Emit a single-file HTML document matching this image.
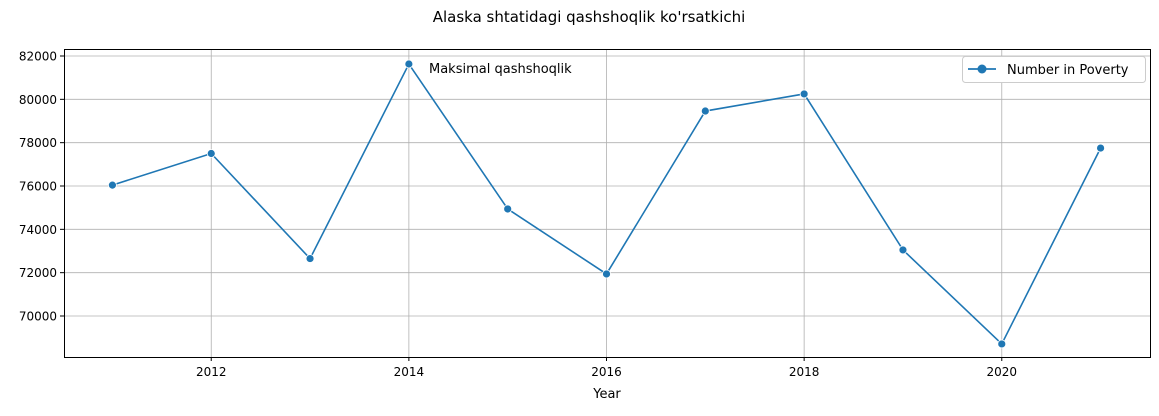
<!DOCTYPE html>
<html><head><meta charset="utf-8"><style>
body{margin:0;background:#fff;font-family:"Liberation Sans","DejaVu Sans",sans-serif}
svg text{font-family:"DejaVu Sans","Liberation Sans",sans-serif}
</style></head><body>
<svg id="chart" width="1159" height="411" xmlns="http://www.w3.org/2000/svg">
<text x="589" y="22" text-anchor="middle" font-size="15">Alaska shtatidagi qashshoqlik ko'rsatkichi</text>
<g id="grid"></g><g id="axes"></g><g id="series"></g>
<rect x="64.5" y="49.5" width="1086" height="308" fill="none" stroke="#000" stroke-width="1"/>
<text x="429" y="73" font-size="13">Maksimal qashshoqlik</text>
<g>
<rect x="962.5" y="56.5" width="183" height="26" rx="3" fill="#fff" stroke="#ccc"/>
<line x1="968" y1="69" x2="996" y2="69" stroke="#1f77b4" stroke-width="1.8"/>
<circle cx="982" cy="69" r="4.5" fill="#1f77b4"/>
<text x="1007" y="74" font-size="13">Number in Poverty</text>
</g>
<text x="607" y="398" text-anchor="middle" font-size="13">Year</text>
</svg>
<script>
const years=[2011,2012,2013,2014,2015,2016,2017,2018,2019,2020,2021];
const poverty=[76040,77500,72650,81630,74940,71940,79460,80250,73050,68710,77750];
const xTicks=[2012,2014,2016,2018,2020];
const yTicks=[70000,72000,74000,76000,78000,80000,82000];
const L=64,R=1150,T=49,B=357,x0=2010.51,x1=2021.5,y0=68108,y1=82323;
const sx=v=>L+(v-x0)/(x1-x0)*(R-L);
const sy=v=>B-(v-y0)/(y1-y0)*(B-T);
const NS="http://www.w3.org/2000/svg";
const grid=document.getElementById('grid'),axes=document.getElementById('axes'),ser=document.getElementById('series');
function mk(tag,attrs,parent){const e=document.createElementNS(NS,tag);for(const k in attrs)e.setAttribute(k,attrs[k]);parent.appendChild(e);return e;}
xTicks.forEach(t=>{const x=sx(t);
const g=mk('line',{x1:x,x2:x,y1:T,y2:B,stroke:'#b0b0b0','stroke-width':0.8},grid);


mk('line',{x1:x,x2:x,y1:B,y2:B+4,stroke:'#000'},axes);
const tx=mk('text',{x:x,y:B+19,'text-anchor':'middle','font-size':12},axes);tx.textContent=t;

});
yTicks.forEach(t=>{const y=sy(t);
const g=mk('line',{x1:L,x2:R,y1:y,y2:y,stroke:'#b0b0b0','stroke-width':0.8},grid);


mk('line',{x1:L-4,x2:L,y1:y,y2:y,stroke:'#000'},axes);
const tx=mk('text',{x:L-7,y:y+4.5,'text-anchor':'end','font-size':12},axes);tx.textContent=t;

});
const p=mk('polyline',{points:years.map((yr,i)=>sx(yr)+','+sy(poverty[i])).join(' '),fill:'none',stroke:'#1f77b4','stroke-width':1.6},ser);


years.forEach((yr,i)=>{const c=mk('circle',{cx:sx(yr),cy:sy(poverty[i]),r:4,fill:'#1f77b4',stroke:'#fff','stroke-width':0.8},ser);

});
</script>
</body></html>
